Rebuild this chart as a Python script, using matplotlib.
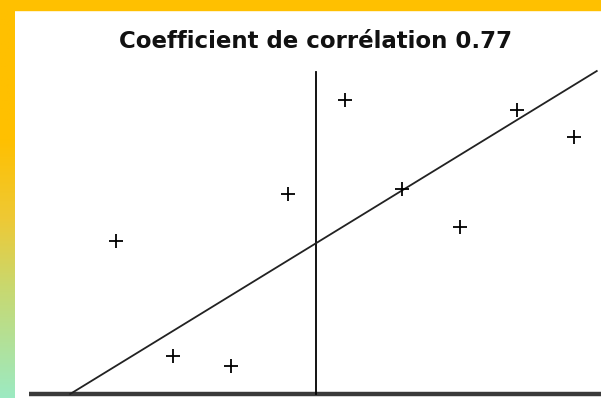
import numpy as np
import matplotlib
matplotlib.use("Agg")
import matplotlib.pyplot as plt
from matplotlib.colors import LinearSegmentedColormap

# scatter data
x_vals = [1, 2, 3, 4, 5, 6, 7, 8, 9]
y_vals = [4.75, 1.19, 0.88, 6.21, 9.13, 6.37, 5.20, 8.82, 7.97]

# fitted line as drawn
line_x = [0.20, 9.39]
line_y = [0.0, 10.03]

# axes lines
vline_x = 4.49
vline_y = [0.0, 10.0]
hline_x = [-0.52, 9.47]

title = "Coefficient de corrélation 0.77"

fig = plt.figure(figsize=(6.01, 3.98), dpi=100)
fig.patch.set_facecolor("white")

# left gradient border
border = fig.add_axes([0, 0, 15 / 601, 1])
cmap = LinearSegmentedColormap.from_list(
    "side", [(0.0, "#FFC000"), (0.35, "#FFC000"), (0.55, "#EEC935"),
             (0.72, "#C9D86E"), (1.0, "#9CEAC2")])
grad = np.linspace(0, 1, 256).reshape(-1, 1)
border.imshow(grad, aspect="auto", cmap=cmap, extent=[0, 1, 1, 0])
border.set_axis_off()

# top border
fig.patches.append(plt.Rectangle((0, 1 - 10 / 398), 1, 10 / 398,
                                 transform=fig.transFigure, color="#FFC000", zorder=5))

ax = fig.add_axes([15 / 601, 0, 586 / 601, 388 / 398])
ax.set_xlim(1 - (116 - 15) / 57.3, 1 + 485 / 57.3)
ax.set_ylim(-4 / 32.2, 384 / 32.2)
ax.set_axis_off()

ax.plot(hline_x, [0, 0], color="#3a3a3a", lw=3.2, solid_capstyle="butt")
ax.plot([vline_x, vline_x], vline_y, color="black", lw=1.3)
ax.plot(line_x, line_y, color="#222222", lw=1.3)
ax.plot(x_vals, y_vals, linestyle="none", marker="+", color="black",
        markersize=9.5, markeredgewidth=1.3)

ax.text(vline_x, 352 / 32.2, title, ha="center", va="center",
        fontsize=16.5, fontweight="bold", color="#111111")

fig.savefig("out.png", dpi=100)
